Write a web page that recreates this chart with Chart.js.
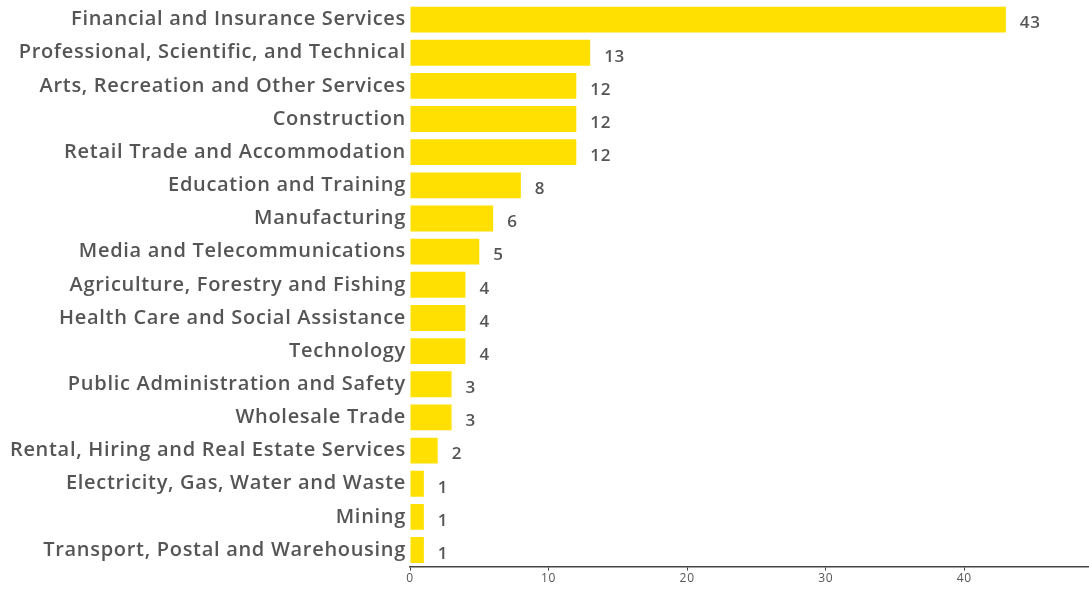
<!DOCTYPE html>
<html><head><meta charset="utf-8">
<script src="https://cdn.jsdelivr.net/npm/chart.js@4.4.0/dist/chart.umd.min.js"></script>
<style>html,body{margin:0;padding:0;background:#fff;}#wrap{width:1089px;height:589px;}</style>
</head><body><div id="wrap"><canvas id="c"></canvas></div>
<script>
const categories = [
  "Financial and Insurance Services",
  "Professional, Scientific, and Technical",
  "Arts, Recreation and Other Services",
  "Construction",
  "Retail Trade and Accommodation",
  "Education and Training",
  "Manufacturing",
  "Media and Telecommunications",
  "Agriculture, Forestry and Fishing",
  "Health Care and Social Assistance",
  "Technology",
  "Public Administration and Safety",
  "Wholesale Trade",
  "Rental, Hiring and Real Estate Services",
  "Electricity, Gas, Water and Waste",
  "Mining",
  "Transport, Postal and Warehousing"
];
const values = [43, 13, 12, 12, 12, 8, 6, 5, 4, 4, 4, 3, 3, 2, 1, 1, 1];
const xTicks = [0, 10, 20, 30, 40];

const spacing = {
  id: 'spacing',
  beforeDraw(chart) { chart.ctx.letterSpacing = '0.7px'; }
};

const valueLabels = {
  id: 'valueLabels',
  afterDatasetsDraw(chart) {
    const ctx = chart.ctx;
    const meta = chart.getDatasetMeta(0);
    ctx.save();
    ctx.font = '600 17px "Open Sans", sans-serif';
    ctx.fillStyle = '#555555';
    ctx.textBaseline = 'middle';
    ctx.textAlign = 'left';
    meta.data.forEach((bar, i) => {
      ctx.fillText(String(values[i]), bar.x + 14, bar.y + 4);
    });
    ctx.restore();
  }
};

new Chart(document.getElementById('c'), {
  type: 'bar',
  data: {
    labels: categories,
    datasets: [{
      data: values,
      backgroundColor: '#FFE000',
      borderWidth: 0,
      barPercentage: 0.78,
      categoryPercentage: 1.0
    }]
  },
  options: {
    indexAxis: 'y',
    responsive: true,
    maintainAspectRatio: false,
    animation: false,
    layout: { padding: { left: 0, right: 0, top: 3, bottom: 2 } },
    plugins: { legend: { display: false }, tooltip: { enabled: false } },
    scales: {
      x: {
        min: 0, max: 49,
        afterBuildTicks(axis) { axis.ticks = xTicks.map(v => ({ value: v })); },
        afterFit(axis) { axis.paddingLeft = 0; axis.paddingRight = 0; },
        grid: { display: true, drawOnChartArea: false, drawTicks: true, tickLength: 4, color: '#444' },
        border: { display: true, color: '#444', width: 1.5 },
        ticks: { color: '#555', font: { family: 'Open Sans', size: 12 }, padding: 1, maxRotation: 0 }
      },
      y: {
        afterFit(axis) { axis.width = 410; axis.paddingTop = 0; axis.paddingBottom = 0; },
        grid: { display: false, drawTicks: false, tickLength: 0 },
        border: { display: false },
        ticks: { color: '#555555', font: { family: 'Open Sans', size: 20, weight: '600' }, padding: 4, autoSkip: false }
      }
    }
  },
  plugins: [spacing, valueLabels]
});
</script></body></html>
